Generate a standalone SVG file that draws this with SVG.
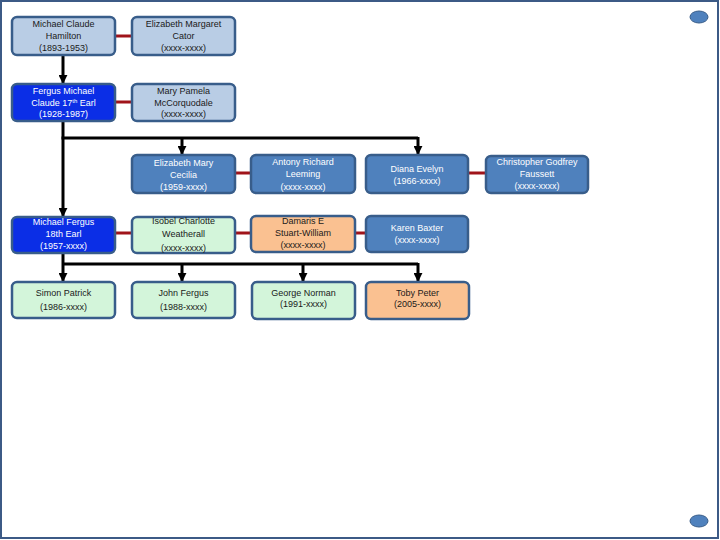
<svg xmlns="http://www.w3.org/2000/svg" width="720" height="540" viewBox="0 0 720 540">
<defs>
<marker id="arr" viewBox="0 0 10 10" refX="9" refY="5" markerWidth="3" markerHeight="3" orient="auto" markerUnits="strokeWidth">
<path d="M0,0 L10,5 L0,10 Z" fill="#000"/>
</marker>
</defs>
<style>
.n rect{stroke:#385d8a;stroke-width:2.5}
.lb rect{fill:#b9cde5}
.mb rect{fill:#4f81bd}
.db rect{fill:#0b2ee6}
.gr rect{fill:#d3f5da}
.or rect{fill:#fac191}
text{font-family:"Liberation Sans",Arial,sans-serif;font-size:9px;text-anchor:middle}
.lb text,.gr text,.or text{fill:#1a1a1a}
.mb text,.db text{fill:#fff}
.sp{stroke:#a0141a;stroke-width:3;fill:none}
.ch{stroke:#000;stroke-width:3;fill:none}
.ar{stroke:#000;stroke-width:3;fill:none;marker-end:url(#arr)}
</style>
<rect x="1" y="1" width="717" height="537" fill="#fff" stroke="#3c5a86" stroke-width="2"/>
<ellipse cx="699" cy="17" rx="9" ry="6" fill="#4f81bd" stroke="#385d8a" stroke-width="1"/>
<ellipse cx="699" cy="521" rx="9" ry="6" fill="#4f81bd" stroke="#385d8a" stroke-width="1"/>
<g id="connectors">
<line class="sp" x1="115" y1="36" x2="132" y2="36"/>
<line class="sp" x1="115" y1="102" x2="132" y2="102"/>
<line class="sp" x1="235" y1="173" x2="251" y2="173"/>
<line class="sp" x1="468" y1="173" x2="486" y2="173"/>
<line class="sp" x1="115" y1="233" x2="132" y2="233"/>
<line class="sp" x1="235" y1="233" x2="251" y2="233"/>
<line class="sp" x1="355" y1="233" x2="366" y2="233"/>
<line class="ar" x1="63" y1="55" x2="63" y2="83"/>
<line class="ar" x1="63" y1="121" x2="63" y2="216"/>
<polyline class="ch" points="61.5,138 418,138"/>
<line class="ar" x1="182" y1="138" x2="182" y2="154"/>
<line class="ar" x1="418" y1="137" x2="418" y2="154"/>
<line class="ar" x1="63" y1="253" x2="63" y2="281"/>
<polyline class="ch" points="63,264 418,264"/>
<line class="ar" x1="182" y1="264" x2="182" y2="281"/>
<line class="ar" x1="303" y1="264" x2="303" y2="281"/>
<line class="ar" x1="418" y1="263" x2="418" y2="281"/>
</g>
<g id="n1" class="n lb"><rect x="12" y="17" width="103" height="38" rx="5"/><text x="63.5" y="27">Michael Claude</text><text x="63.5" y="39">Hamilton</text><text x="63.5" y="51">(1893-1953)</text></g>
<g id="n2" class="n lb"><rect x="132" y="17" width="103" height="38" rx="5"/><text x="183.5" y="27">Elizabeth Margaret</text><text x="183.5" y="39">Cator</text><text x="183.5" y="51" font-size="8">(xxxx-xxxx)</text></g>
<g id="n3" class="n db"><rect x="12" y="84" width="103" height="37" rx="5"/><text x="63.5" y="94">Fergus Michael</text><text x="63.5" y="106">Claude 17<tspan font-size="6" dy="-3">th</tspan><tspan dy="3"> Earl</tspan></text><text x="63.5" y="117">(1928-1987)</text></g>
<g id="n4" class="n lb"><rect x="132" y="84" width="103" height="37" rx="5"/><text x="183.5" y="94">Mary Pamela</text><text x="183.5" y="106">McCorquodale</text><text x="183.5" y="117" font-size="8">(xxxx-xxxx)</text></g>
<g id="n5" class="n mb"><rect x="132" y="155" width="103" height="38" rx="5"/><text x="183.5" y="166">Elizabeth Mary</text><text x="183.5" y="178">Cecilia</text><text x="183.5" y="190">(1959-xxxx)</text></g>
<g id="n6" class="n mb"><rect x="251" y="155" width="104" height="38" rx="5"/><text x="303" y="165">Antony Richard</text><text x="303" y="177">Leeming</text><text x="303" y="190" font-size="8">(xxxx-xxxx)</text></g>
<g id="n7" class="n mb"><rect x="366" y="155" width="102" height="38" rx="5"/><text x="417" y="172">Diana Evelyn</text><text x="417" y="184">(1966-xxxx)</text></g>
<g id="n8" class="n mb"><rect x="486" y="156" width="102" height="37" rx="5"/><text x="537" y="165">Christopher Godfrey</text><text x="537" y="177">Faussett</text><text x="537" y="189" font-size="8">(xxxx-xxxx)</text></g>
<g id="n9" class="n db"><rect x="12" y="217" width="103" height="36" rx="5"/><text x="63.5" y="225">Michael Fergus</text><text x="63.5" y="237">18th Earl</text><text x="63.5" y="249">(1957-xxxx)</text></g>
<g id="n10" class="n gr"><rect x="132" y="217" width="103" height="36" rx="5"/><text x="183.5" y="224">Isobel Charlotte</text><text x="183.5" y="237">Weatherall</text><text x="183.5" y="251" font-size="8">(xxxx-xxxx)</text></g>
<g id="n11" class="n or"><rect x="251" y="216" width="104" height="36" rx="5"/><text x="303" y="224" font-size="8.5">Damaris E</text><text x="303" y="236">Stuart-William</text><text x="303" y="248" font-size="8">(xxxx-xxxx)</text></g>
<g id="n12" class="n mb"><rect x="366" y="216" width="102" height="36" rx="5"/><text x="417" y="231">Karen Baxter</text><text x="417" y="243" font-size="8">(xxxx-xxxx)</text></g>
<g id="n13" class="n gr"><rect x="12" y="282" width="103" height="36" rx="5"/><text x="63.5" y="296">Simon Patrick</text><text x="63.5" y="310">(1986-xxxx)</text></g>
<g id="n14" class="n gr"><rect x="132" y="282" width="103" height="36" rx="5"/><text x="183.5" y="296">John Fergus</text><text x="183.5" y="310">(1988-xxxx)</text></g>
<g id="n15" class="n gr"><rect x="252" y="282" width="103" height="37" rx="5"/><text x="303.5" y="296">George Norman</text><text x="303.5" y="307">(1991-xxxx)</text></g>
<g id="n16" class="n or"><rect x="366" y="282" width="103" height="37" rx="5"/><text x="417.5" y="296" font-size="8.5">Toby Peter</text><text x="417.5" y="307" font-size="8">(2005-xxxx)</text></g>
</svg>
